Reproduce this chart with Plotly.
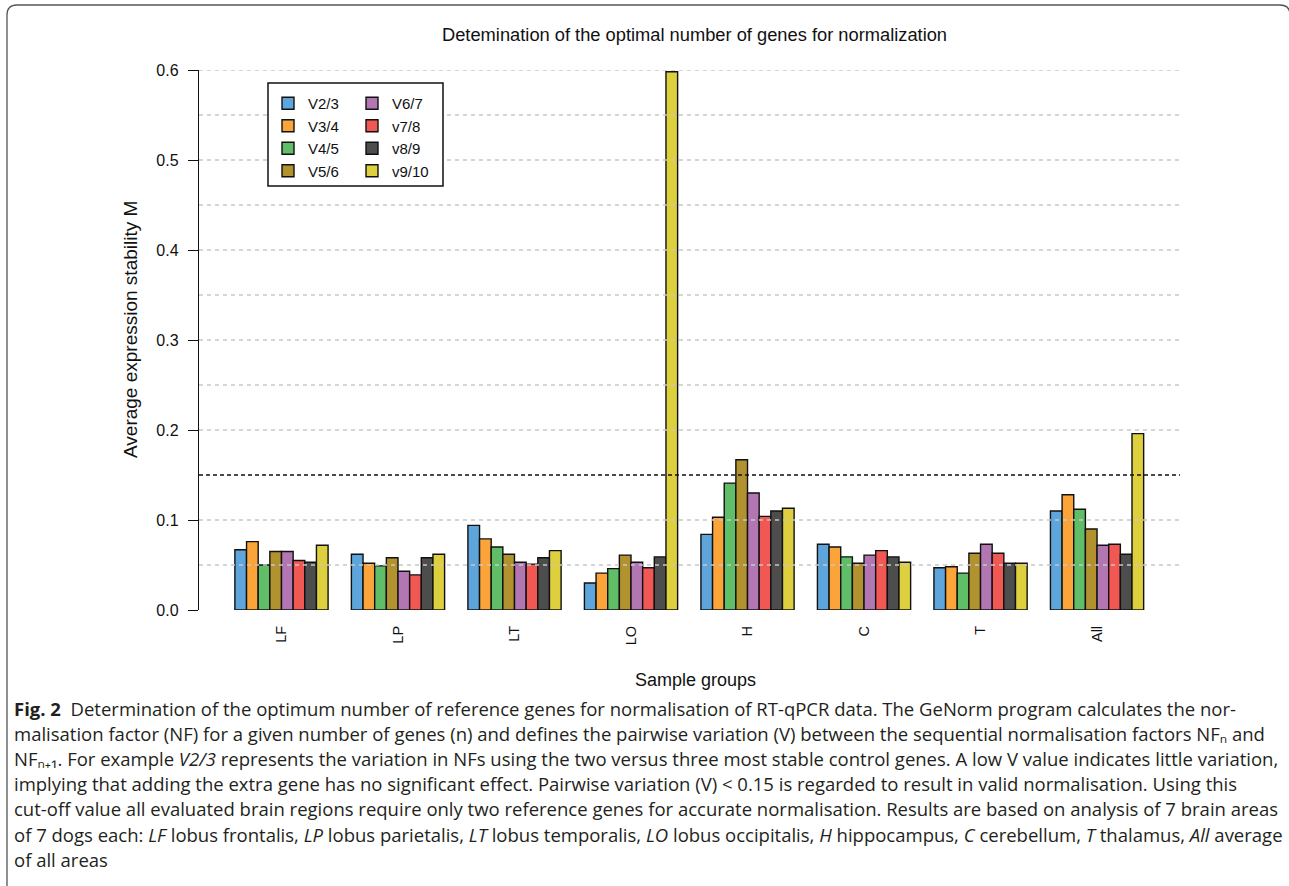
import plotly.graph_objects as go

groups = ["LF", "LP", "LT", "LO", "H", "C", "T", "All"]
series_names = ["V2/3", "V3/4", "V4/5", "V5/6", "V6/7", "v7/8", "v8/9", "v9/10"]
V23 = [0.067, 0.062, 0.094, 0.030, 0.084, 0.073, 0.047, 0.110]
V34 = [0.076, 0.052, 0.079, 0.041, 0.103, 0.070, 0.048, 0.128]
V45 = [0.050, 0.049, 0.070, 0.046, 0.141, 0.059, 0.041, 0.112]
V56 = [0.065, 0.058, 0.062, 0.061, 0.167, 0.052, 0.063, 0.090]
V67 = [0.065, 0.043, 0.053, 0.053, 0.130, 0.061, 0.073, 0.072]
v78 = [0.055, 0.039, 0.051, 0.047, 0.104, 0.066, 0.063, 0.073]
v89 = [0.053, 0.058, 0.058, 0.059, 0.110, 0.059, 0.052, 0.062]
v910 = [0.072, 0.062, 0.066, 0.598, 0.113, 0.053, 0.052, 0.196]
series_values = [V23, V34, V45, V56, V67, v78, v89, v910]
colors = ["#5DA5DA", "#FAA43A", "#60BD68", "#B2912F", "#B276B2", "#F15854", "#4D4D4D", "#DECF3F"]
y_ticks = [0.0, 0.1, 0.2, 0.3, 0.4, 0.5, 0.6]
grid_vals = [0.05, 0.1, 0.2, 0.25, 0.3, 0.35, 0.4, 0.45, 0.5, 0.55, 0.6]
threshold = 0.15

title = "Detemination of the optimal number of genes for normalization"
y_title = "Average expression stability M"
x_title = "Sample groups"
caption_lines = [
    "<b>Fig. 2</b>  Determination of the optimum number of reference genes for normalisation of RT-qPCR data. The GeNorm program calculates the nor-",
    "malisation factor (NF) for a given number of genes (n) and defines the pairwise variation (V) between the sequential normalisation factors NF\u2099 and",
    "NF\u2099\u208a\u2081. For example <i>V2/3</i> represents the variation in NFs using the two versus three most stable control genes. A low V value indicates little variation,",
    "implying that adding the extra gene has no significant effect. Pairwise variation (V) &lt; 0.15 is regarded to result in valid normalisation. Using this",
    "cut-off value all evaluated brain regions require only two reference genes for accurate normalisation. Results are based on analysis of 7 brain areas",
    "of 7 dogs each: <i>LF</i> lobus frontalis, <i>LP</i> lobus parietalis, <i>LT</i> lobus temporalis, <i>LO</i> lobus occipitalis, <i>H</i> hippocampus, <i>C</i> cerebellum, <i>T</i> thalamus, <i>All</i> average",
    "of all areas",
]

W, H = 1289, 886
PL, PR, PT, PB = 199, 1180, 70, 610


def px(x):
    return (x - PL) / (PR - PL)


def py(y):
    return (PB - y) / (PB - PT)


FONT = "Liberation Sans, Arial, sans-serif"
CAP_FONT = "Open Sans, Noto Sans, DejaVu Sans, sans-serif"

fig = go.Figure()
for i, (name, vals, col) in enumerate(zip(series_names, series_values, colors)):
    fig.add_trace(go.Bar(
        x=groups, y=vals, name=name,
        marker=dict(color=col, line=dict(color="#111111", width=1.4)),
        legend="legend" if i < 4 else "legend2",
    ))

shapes = []
for g in grid_vals:
    shapes.append(dict(type="line", xref="paper", yref="y", x0=0, x1=1, y0=g, y1=g,
                       line=dict(color="#c8c8c8", width=1.3, dash="4px,4px"), layer="above"))
shapes.append(dict(type="line", xref="paper", yref="y", x0=0, x1=1, y0=threshold, y1=threshold,
                   line=dict(color="#111111", width=1.5, dash="4px,3px"), layer="above"))
# legend box
shapes.append(dict(type="rect", xref="paper", yref="paper", x0=px(268), x1=px(443), y0=py(186), y1=py(83),
                   line=dict(color="#111111", width=1.5), fillcolor="white", layer="above"))
# outer frame
fx0, fy0, fr = 7, 5, 10
path = (f"M {px(fx0)},{py(H + 5)} L {px(fx0)},{py(fy0 + fr)} "
        f"Q {px(fx0)},{py(fy0)} {px(fx0 + fr)},{py(fy0)} "
        f"L {px(1280)},{py(fy0)} Q {px(1290)},{py(fy0)} {px(1290)},{py(fy0 + fr)} L {px(1290)},{py(H + 5)}")
shapes.append(dict(type="path", xref="paper", yref="paper", path=path,
                   line=dict(color="#555555", width=1.3), layer="above"))

annotations = [
    dict(text=title, xref="paper", yref="paper", x=px(694), y=py(34), xanchor="center", yanchor="middle",
         showarrow=False, font=dict(family=FONT, size=18.3, color="#111111")),
    dict(text=y_title, xref="paper", yref="paper", x=px(130), y=py(330), xanchor="center", yanchor="middle",
         textangle=-90, showarrow=False, font=dict(family=FONT, size=19, color="#111111")),
    dict(text=x_title, xref="paper", yref="paper", x=px(695), y=py(680), xanchor="center", yanchor="middle",
         showarrow=False, font=dict(family=FONT, size=18, color="#111111")),
]
cap_y0, cap_dy = 708, 25.2
for k, line in enumerate(caption_lines):
    annotations.append(dict(text=line, xref="paper", yref="paper", x=px(12), y=py(cap_y0 + k * cap_dy),
                            xanchor="left", yanchor="middle", align="left", showarrow=False,
                            font=dict(family=CAP_FONT, size=18.5, color="#231f20")))

legend_common = dict(xanchor="left", yanchor="top", bgcolor="rgba(0,0,0,0)", borderwidth=0,
                     font=dict(family=FONT, size=15, color="#111111"), tracegroupgap=0,
                     orientation="v", traceorder="normal")

fig.update_layout(
    width=W, height=H,
    margin=dict(l=PL, r=W - PR, t=PT, b=H - PB, pad=0),
    paper_bgcolor="white", plot_bgcolor="white",
    barmode="group", bargap=0.2, bargroupgap=0,
    showlegend=True,
    legend=dict(x=px(268), y=py(87), **legend_common),
    legend2=dict(x=px(352), y=py(87), **legend_common),
    xaxis=dict(type="category", range=[-0.708, 7.712], showline=False, showgrid=False, zeroline=False,
               ticks="", tickangle=-90, ticklabelstandoff=12,
               tickfont=dict(family=FONT, size=14.5, color="#111111")),
    yaxis=dict(range=[0, 0.6], tickvals=y_ticks, tickformat=".1f", showgrid=False, zeroline=False,
               showline=True, linecolor="#111111", linewidth=1.4, ticks="outside", ticklen=10,
               tickwidth=1.4, tickcolor="#111111", ticklabelstandoff=6,
               tickfont=dict(family=FONT, size=16, color="#111111")),
    shapes=shapes, annotations=annotations,
)

fig.write_html("out.html", config={"displayModeBar": False},
               post_script="document.body.style.margin='0px';")
